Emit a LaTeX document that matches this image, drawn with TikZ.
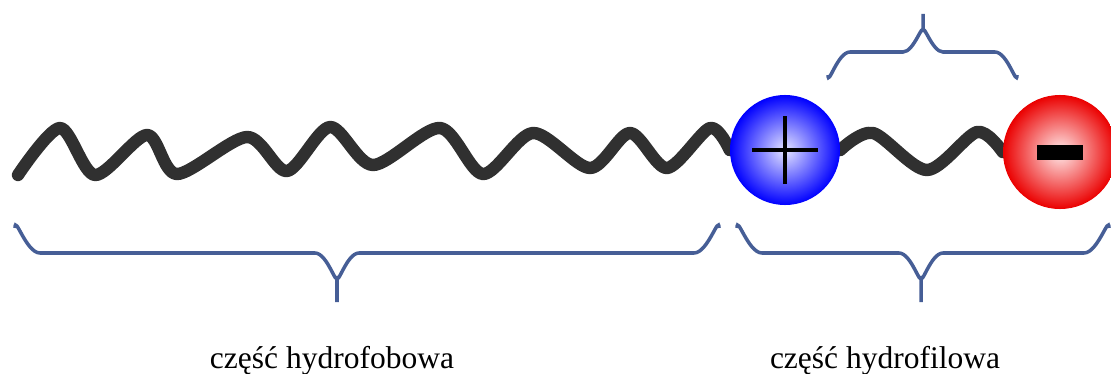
\documentclass[tikz,border=0pt]{standalone}
\usepackage{fontspec}
\setmainfont{Liberation Serif}
\usepackage{tikz}
\usetikzlibrary{backgrounds}

\definecolor{bracecol}{RGB}{70,94,150}
\definecolor{chaincol}{RGB}{48,48,48}

\begin{document}
\begin{tikzpicture}[x=0.025cm,y=-0.025cm,
  chain/.style={draw=chaincol,line width=8.8pt,line cap=round,line join=round},
  bracepath/.style={draw=bracecol,line width=2.5pt},
  ball/.style={circle,inner sep=0pt},
  label/.style={font=\fontsize{22.4}{26}\selectfont,anchor=base}]
\useasboundingbox (0,0) rectangle (1111,374);
\node[ball,minimum size=2.75cm,inner color=blue!10,outer color=blue] (plus) at (785,150) {};
\node[ball,minimum size=2.85cm,inner color=red!8,outer color=red!92!black] (minus) at (1060,152) {};
\draw[line width=2.4pt] ([xshift=-0.82cm]plus.center) -- ([xshift=0.82cm]plus.center);
\draw[line width=2.4pt] ([yshift=-0.85cm]plus.center) -- ([yshift=0.85cm]plus.center);
\fill ([xshift=-0.58cm,yshift=-0.2cm]minus.center) rectangle ([xshift=0.58cm,yshift=0.18cm]minus.center);
\begin{scope}[on background layer]
\draw[chain] plot[smooth] coordinates {(18,175) (60,128) (95,175) (147,135) (177,174) (247,137) (287,171) (330,127) (373,165) (440,128) (483,174) (533,133) (590,168) (630,133) (667,168) (710,128) (plus.west)};
\draw[chain] plot[smooth] coordinates {(plus.east) (873,133) (927,170) (977,132) (minus.west)};
\end{scope}
% braces
\draw[bracepath] (828,75) to[out=-90,in=180] (850,52) -- (903,52) to[out=0,in=90] (923,32) -- (923,14);
\draw[bracepath] (1017,75) to[out=-90,in=0] (995,52) -- (943,52) to[out=180,in=90] (923,32);
\draw[bracepath] (15,228) to[out=90,in=180] (40,253) -- (315,253) to[out=0,in=-90] (337,276) -- (337,302);
\draw[bracepath] (719,228) to[out=90,in=0] (694,253) -- (359,253) to[out=180,in=-90] (337,276);
\draw[bracepath] (737,228) to[out=90,in=180] (762,253) -- (899,253) to[out=0,in=-90] (921,276) -- (921,302);
\draw[bracepath] (1109,228) to[out=90,in=0] (1084,253) -- (943,253) to[out=180,in=-90] (921,276);
\node[label] (phob) at (332,368) {część hydrofobowa};
\node[label] (phil) at (885,368) {część hydrofilowa};
\end{tikzpicture}
\end{document}
